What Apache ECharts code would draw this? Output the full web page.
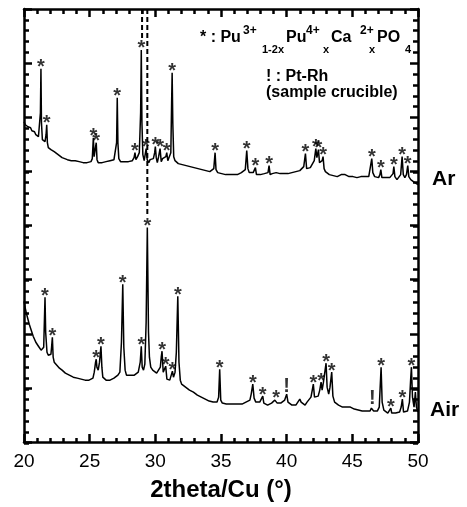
<!DOCTYPE html>
<html>
<head>
<meta charset="utf-8">
<script src="https://cdn.jsdelivr.net/npm/echarts@6/dist/echarts.min.js"></script>
<style>
html,body{margin:0;padding:0;background:#fff;}
#chart{width:467px;height:507px;}
</style>
</head>
<body>
<div id="chart"></div>
<script>
// 2theta (deg), intensity (arbitrary units, offset patterns)
const arPattern = [
[20.0,321],[20.1,318],[20.2,319],[20.3,316],[20.4,314],[20.5,315],[20.6,312],[20.7,310],[20.8,311],[20.9,308],
[21.0,309],[21.1,306],[21.2,305],[21.25,330],[21.29,374],[21.33,320],[21.4,303],[21.5,304],[21.6,301],[21.68,308],
[21.73,318],[21.78,300],[21.85,295],[21.95,297],[22.05,293],[22.15,294],[22.3,291],[22.4,292],[22.5,289],[22.6,290],
[22.7,287],[22.8,288],[22.9,285],[23.0,287],[23.1,284],[23.2,286],[23.3,283],[23.45,285],[23.6,282],[23.75,284],
[23.9,282],[24.05,283],[24.2,281],[24.35,283],[24.5,280],[24.65,282],[24.8,280],[24.95,282],[25.1,281],[25.2,284],
[25.28,305],[25.34,286],[25.4,284],[25.5,300],[25.56,283],[25.65,280],[25.8,278],[25.95,280],[26.1,278],[26.25,281],
[26.4,279],[26.55,282],[26.7,280],[26.85,283],[26.98,282],[27.05,300],[27.1,345],[27.15,300],[27.22,284],[27.35,281],
[27.5,283],[27.65,281],[27.8,282],[27.95,281],[28.1,283],[28.25,282],[28.38,285],[28.45,290],[28.52,283],[28.65,286],
[28.78,290],[28.88,330],[28.93,393],[28.98,320],[29.05,288],[29.15,282],[29.25,290],[29.3,294],[29.38,283],[29.5,280],
[29.6,283],[29.7,281],[29.85,284],[29.95,290],[30.0,296],[30.07,285],[30.15,280],[30.25,286],[30.36,294],[30.45,281],
[30.55,284],[30.7,283],[30.8,286],[30.87,290],[30.95,282],[31.08,284],[31.18,290],[31.24,340],[31.28,370],[31.33,320],
[31.4,286],[31.5,282],[31.62,281],[31.75,279],[31.9,280],[32.05,278],[32.2,279],[32.35,277],[32.5,278],[32.65,276],
[32.8,277],[32.95,275],[33.1,276],[33.25,274],[33.4,275],[33.55,273],[33.7,274],[33.85,272],[34.0,273],[34.15,271],
[34.3,272],[34.45,274],[34.55,290],[34.62,273],[34.75,270],[34.9,271],[35.05,269],[35.2,270],[35.35,268],[35.5,270],
[35.65,268],[35.8,269],[35.95,268],[36.1,270],[36.25,268],[36.4,269],[36.55,270],[36.7,271],[36.85,273],[36.96,292],
[37.05,274],[37.15,270],[37.3,268],[37.45,270],[37.55,271],[37.62,275],[37.7,268],[37.85,269],[38.0,268],[38.15,270],
[38.3,269],[38.45,268],[38.58,270],[38.66,277],[38.74,268],[38.9,269],[39.05,268],[39.2,270],[39.35,268],[39.5,269],
[39.65,267],[39.8,269],[39.95,268],[40.1,269],[40.25,268],[40.4,270],[40.55,269],[40.7,271],[40.85,270],[41.0,272],
[41.15,273],[41.3,276],[41.43,289],[41.52,274],[41.65,273],[41.8,275],[41.95,277],[42.1,282],[42.22,294],[42.3,285],
[42.42,293],[42.5,280],[42.6,278],[42.7,282],[42.77,286],[42.85,274],[42.95,271],[43.1,270],[43.25,268],[43.4,269],
[43.55,267],[43.7,268],[43.85,266],[44.0,267],[44.15,268],[44.3,266],[44.45,268],[44.6,267],[44.75,266],[44.9,268],
[45.05,266],[45.2,267],[45.35,265],[45.5,267],[45.65,266],[45.8,265],[45.95,266],[46.1,265],[46.25,266],[46.38,268],
[46.48,284],[46.56,270],[46.7,266],[46.85,264],[47.0,265],[47.1,268],[47.17,273],[47.25,265],[47.4,263],[47.55,265],
[47.7,264],[47.85,265],[48.0,266],[48.1,269],[48.16,276],[48.24,266],[48.4,263],[48.55,265],[48.68,268],[48.79,286],
[48.88,268],[49.0,265],[49.12,268],[49.22,277],[49.3,266],[49.45,263],[49.6,262],[49.75,260],[49.9,259],[50.0,258]
];
const airPattern = [
[20.0,141],[20.1,134],[20.2,128],[20.3,123],[20.4,118],[20.5,114],[20.6,110],[20.7,106],[20.8,103],[20.9,100],
[21.0,98],[21.1,96],[21.2,94],[21.3,92],[21.4,91],[21.5,95],[21.56,125],[21.6,145],[21.65,110],[21.75,90],
[21.85,87],[21.95,86],[22.05,88],[22.1,95],[22.16,105],[22.22,85],[22.3,80],[22.4,78],[22.5,77],[22.6,76],
[22.7,74],[22.8,73],[22.9,72],[23.0,70],[23.15,69],[23.3,68],[23.45,67],[23.6,66],[23.75,65],[23.9,66],
[24.05,64],[24.2,65],[24.35,63],[24.5,64],[24.65,62],[24.8,63],[24.95,62],[25.1,63],[25.25,64],[25.35,70],
[25.45,80],[25.5,83],[25.55,75],[25.65,72],[25.75,80],[25.86,96],[25.93,75],[26.0,65],[26.1,63],[26.25,62],
[26.4,63],[26.55,62],[26.7,63],[26.85,64],[27.0,65],[27.15,67],[27.3,70],[27.42,100],[27.52,158],[27.6,95],
[27.7,72],[27.8,67],[27.95,66],[28.1,67],[28.25,66],[28.4,67],[28.55,68],[28.7,70],[28.85,80],[28.93,96],
[29.0,75],[29.1,72],[29.2,78],[29.3,120],[29.39,215],[29.48,110],[29.55,85],[29.65,75],[29.8,72],[29.95,70],
[30.1,69],[30.25,70],[30.38,75],[30.45,85],[30.51,91],[30.6,70],[30.7,68],[30.79,76],[30.88,63],[31.0,64],
[31.1,62],[31.2,63],[31.3,71],[31.38,65],[31.5,70],[31.6,90],[31.71,146],[31.8,80],[31.9,62],[32.0,58],
[32.15,56],[32.3,55],[32.45,54],[32.6,52],[32.75,51],[32.9,50],[33.05,48],[33.2,47],[33.35,46],[33.5,45],
[33.65,44],[33.8,43],[33.95,42],[34.1,41],[34.25,41],[34.4,40],[34.55,41],[34.7,40],[34.82,45],[34.9,73],
[34.98,42],[35.1,39],[35.25,40],[35.4,38],[35.55,39],[35.7,38],[35.85,39],[36.0,38],[36.15,39],[36.3,38],
[36.45,39],[36.6,38],[36.75,39],[36.9,40],[37.05,39],[37.2,42],[37.3,48],[37.42,58],[37.52,44],[37.65,40],
[37.8,39],[37.95,40],[38.08,41],[38.18,46],[38.26,39],[38.4,38],[38.55,37],[38.7,38],[38.85,39],[39.0,40],
[39.1,42],[39.19,43],[39.28,39],[39.4,38],[39.55,39],[39.7,38],[39.85,42],[40.0,48],[40.1,40],[40.25,38],
[40.4,37],[40.55,38],[40.7,37],[40.85,39],[41.0,43],[41.1,40],[41.25,38],[41.4,37],[41.55,40],[41.7,42],
[41.85,45],[41.95,52],[42.03,58],[42.12,45],[42.25,43],[42.4,46],[42.52,52],[42.62,60],[42.7,52],[42.8,60],
[43.0,79],[43.08,55],[43.2,48],[43.3,55],[43.43,70],[43.52,46],[43.65,40],[43.8,38],[43.95,37],[44.1,36],
[44.25,35],[44.4,36],[44.55,35],[44.7,34],[44.85,35],[45.0,34],[45.15,33],[45.3,34],[45.45,32],[45.6,33],
[45.75,31],[45.9,32],[46.05,31],[46.2,32],[46.35,31],[46.45,34],[46.53,36],[46.62,31],[46.75,30],[46.9,31],
[47.05,35],[47.12,55],[47.19,75],[47.27,40],[47.4,32],[47.55,30],[47.7,29],[47.85,31],[47.93,34],[48.0,29],
[48.15,28],[48.3,29],[48.45,28],[48.6,30],[48.72,35],[48.81,43],[48.9,30],[49.05,29],[49.2,31],[49.35,40],
[49.45,65],[49.5,75],[49.58,45],[49.7,35],[49.8,50],[49.88,35],[50.0,30]
];
// Peak annotations: [2theta, peak top]
const arStarPeaks = [[21.29,374],[21.73,318],[25.28,305],[25.5,300],[27.1,345],[28.45,290],[28.93,393],[29.29,294],
[30.0,296],[30.36,294],[30.87,290],[31.28,370],[34.55,290],[36.96,292],[37.62,275],[38.66,277],[41.43,289],
[42.22,294],[42.42,293],[42.77,286],[46.48,284],[47.17,273],[48.16,276],[48.79,286],[49.22,277]];
const airStarPeaks = [[21.6,145],[22.16,105],[25.5,83],[25.86,96],[27.52,158],[28.93,96],[29.39,215],[30.51,91],
[30.79,76],[31.3,71],[31.71,146],[34.9,73],[37.42,58],[38.18,46],[39.19,43],[42.03,58],[42.62,60],[43.0,79],
[43.43,70],[47.19,75],[47.93,34],[48.81,43],[49.5,75]];
const airBangPeaks = [[40.0,48],[46.53,36]];
// dashed guide lines: [2theta, lower end]
const guideLines = [[28.99,403],[29.39,226]];
const yTop = 434;
const xTicks = {min:20, max:50, interval:5, minorInterval:1};
const yMajor = yTop/8, yMinor = yTop/40;

const chart = echarts.init(document.getElementById('chart'), null, {renderer:'canvas'});
const FONT = 'Liberation Sans';
function ax(extra, tickLen, lineShow) {
  return Object.assign({
    type:'value', splitLine:{show:false},
    axisLine:{show:lineShow, onZero:false, lineStyle:{color:'#000', width:2.5}},
    axisTick:{show:true, inside:true, length:tickLen, lineStyle:{color:'#000', width:2.5}},
    axisLabel:{show:false}
  }, extra);
}
const series = [
  {type:'line', data:arPattern, showSymbol:false, symbol:'none', lineStyle:{color:'#000', width:1.5}, z:3, silent:true},
  {type:'line', data:airPattern, showSymbol:false, symbol:'none', lineStyle:{color:'#000', width:1.5}, z:3, silent:true},
  {type:'scatter', data:arStarPeaks.concat(airStarPeaks), symbolSize:0.1, itemStyle:{color:'rgba(0,0,0,0)'},
   label:{show:true, position:'top', distance:-9, formatter:'*', fontSize:20, fontWeight:'bold', color:'#000', fontFamily:FONT}},
  {type:'scatter', data:airBangPeaks, symbolSize:0.1, itemStyle:{color:'rgba(0,0,0,0)'},
   label:{show:true, position:'top', distance:-2, formatter:'!', fontSize:20, fontWeight:'bold', color:'#000', fontFamily:FONT}}
];
guideLines.forEach(g => {
  series.push({type:'line', data:[[g[0], yTop],[g[0], g[1]]], showSymbol:false, symbol:'none',
    lineStyle:{color:'#000', width:2, type:[5,3]}, z:4, silent:true});
});

const legendTokens = [
  ['* : Pu',200,38,16],['3+',243,31,12],['1-2x',262,50,11],['Pu',286,38,16],['4+',306,31,12],['x',323,50,11],
  ['Ca',331,38,16],['2+',360,31,12],['x',369,50,11],['PO',377,38,16],['4',405,50,11]
];
function txt(s, x, y, size) {
  return {type:'text', x:x, y:y, z:10,
    style:{text:s, font:'bold '+size+'px '+FONT, fill:'#000', align:'left', verticalAlign:'middle'}};
}
const gridBox = {left:24, right:49, top:9, bottom:64, containLabel:false};

chart.setOption({
  animation:false,
  backgroundColor:'#fff',
  grid:[Object.assign({}, gridBox), Object.assign({}, gridBox)],
  xAxis:[
    ax({gridIndex:0, position:'bottom', min:xTicks.min, max:xTicks.max, interval:xTicks.interval,
      axisLabel:{show:true, fontSize:19, color:'#000', margin:10, fontFamily:FONT},
      name:'2theta/Cu (°)', nameLocation:'middle', nameGap:36,
      nameTextStyle:{fontSize:24, fontWeight:'bold', color:'#000', fontFamily:FONT}}, 8, true),
    ax({gridIndex:0, position:'top', min:xTicks.min, max:xTicks.max, interval:xTicks.interval}, 8, true),
    ax({gridIndex:1, position:'bottom', min:xTicks.min, max:xTicks.max, interval:xTicks.minorInterval}, 5, false),
    ax({gridIndex:1, position:'top', min:xTicks.min, max:xTicks.max, interval:xTicks.minorInterval}, 5, false)
  ],
  yAxis:[
    ax({gridIndex:0, position:'left', min:0, max:yTop, interval:yMajor}, 8, true),
    ax({gridIndex:0, position:'right', min:0, max:yTop, interval:yMajor}, 8, true),
    ax({gridIndex:1, position:'left', min:0, max:yTop, interval:yMinor}, 5, false),
    ax({gridIndex:1, position:'right', min:0, max:yTop, interval:yMinor}, 5, false)
  ],
  series:series,
  graphic:[
    {type:'group', children:[
      ...legendTokens.map(t => txt(t[0], t[1], t[2], t[3])),
      txt('! : Pt-Rh', 266, 77, 16),
      txt('(sample crucible)', 266, 93, 16),
      txt('Ar', 432, 179, 21),
      txt('Air', 430, 410, 21)
    ]}
  ]
});
</script>
</body>
</html>
